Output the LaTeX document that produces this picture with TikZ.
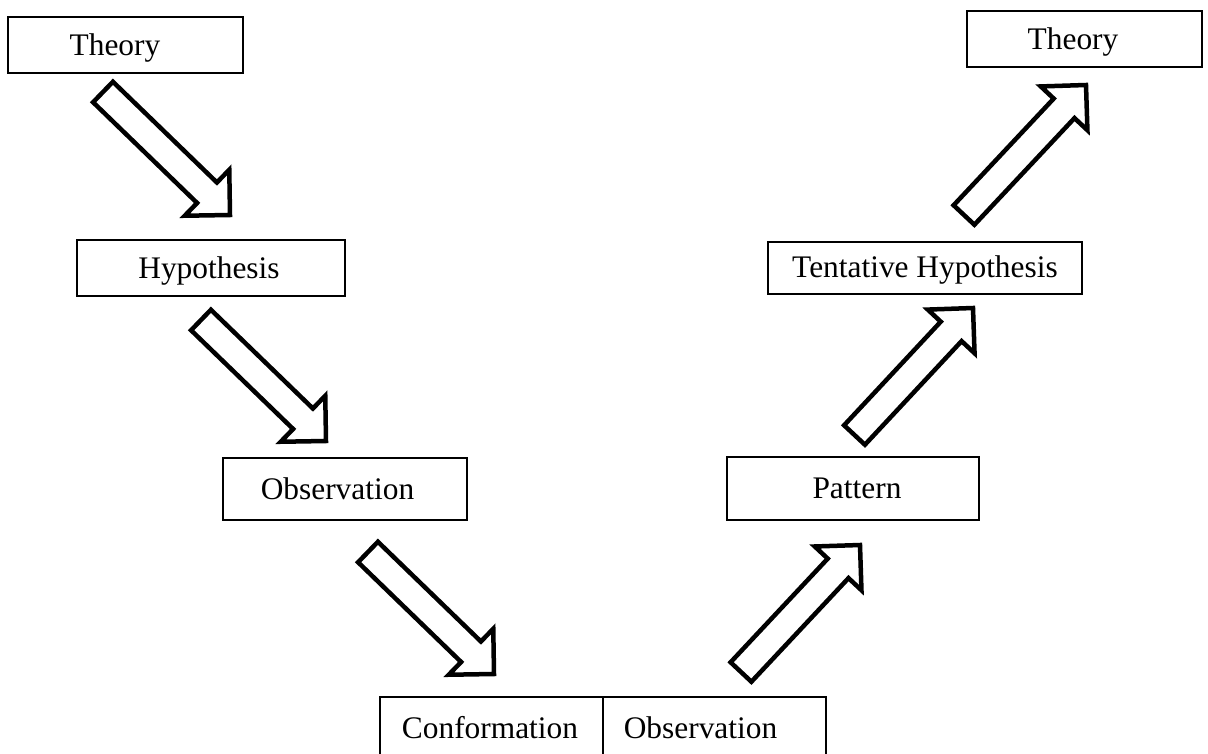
\documentclass[tikz,border=0pt]{standalone}
\usepackage{fontspec}
\setmainfont{Liberation Serif}
\usetikzlibrary{calc}

\tikzset{
  box/.style={draw, line width=2pt, inner sep=0pt, fill=white},
  boxtext/.style={inner sep=0pt, text height=20.8pt, text depth=0pt,
                  font=\fontsize{31.4}{36}\selectfont},
  blockarrow/.style={draw, line width=4.5pt, line join=miter, fill=white},
}

% Hollow block arrow from a tail point #1 to a tip point #2
\newcommand\blockarrowfrom[2]{%
  \coordinate (#1h) at ($(#2)!32pt!(#1)$);
  \draw[blockarrow]
    ($(#1)!14.25pt!90:(#2)$) -- ($(#1h)!14.25pt!90:(#2)$) --
    ($(#1h)!32pt!90:(#2)$) -- (#2) --
    ($(#1h)!32pt!-90:(#2)$) -- ($(#1h)!14.25pt!-90:(#2)$) --
    ($(#1)!14.25pt!-90:(#2)$) -- cycle;
}

\begin{document}
\begin{tikzpicture}[x=1pt, y=-1pt]
  \useasboundingbox (0,0) rectangle (1208,753);

  % deductive branch
  \node[box, minimum width=235pt, minimum height=56pt] (theoryA) at (125.5,45) {};
  \node[boxtext] (theoryA-t) at (115,45) {Theory};

  \node[box, minimum width=268pt, minimum height=56pt] (hyp) at (211,268) {};
  \node[boxtext] (hyp-t) at (209,268) {Hypothesis};

  \node[box, minimum width=244pt, minimum height=62pt] (obsA) at (345,489) {};
  \node[boxtext] (obsA-t) at (337.5,489) {Observation};

  % bottom split box
  \node[box, minimum width=223pt, minimum height=62pt] (conf) at (491.5,728) {};
  \node[boxtext] (conf-t) at (490,728) {Conformation};
  \node[box, minimum width=223pt, minimum height=62pt] (obsB) at (714.5,728) {};
  \node[boxtext] (obsB-t) at (700.5,728) {Observation};

  % inductive branch
  \node[box, minimum width=252pt, minimum height=63pt] (pattern) at (853,488.5) {};
  \node[boxtext] (pattern-t) at (857,488.5) {Pattern};

  \node[box, minimum width=314pt, minimum height=52pt] (tent) at (925,267.5) {};
  \node[boxtext] (tent-t) at (925,267.5) {Tentative Hypothesis};

  \node[box, minimum width=235pt, minimum height=56pt] (theoryB) at (1084.5,39) {};
  \node[boxtext] (theoryB-t) at (1073,39) {Theory};

  % arrow end points
  \coordinate (a1t) at (103,92);    \coordinate (a1h) at (230,215);
  \coordinate (a2t) at (201,320);   \coordinate (a2h) at (326,441);
  \coordinate (a3t) at (368,552);   \coordinate (a3h) at (494,674);
  \coordinate (a4t) at (741,672);   \coordinate (a4h) at (860,545);
  \coordinate (a5t) at (854.5,435); \coordinate (a5h) at (973,308);
  \coordinate (a6t) at (964,215);   \coordinate (a6h) at (1086,85);

  \blockarrowfrom{a1t}{a1h}
  \blockarrowfrom{a2t}{a2h}
  \blockarrowfrom{a3t}{a3h}
  \blockarrowfrom{a4t}{a4h}
  \blockarrowfrom{a5t}{a5h}
  \blockarrowfrom{a6t}{a6h}
\end{tikzpicture}
\end{document}
